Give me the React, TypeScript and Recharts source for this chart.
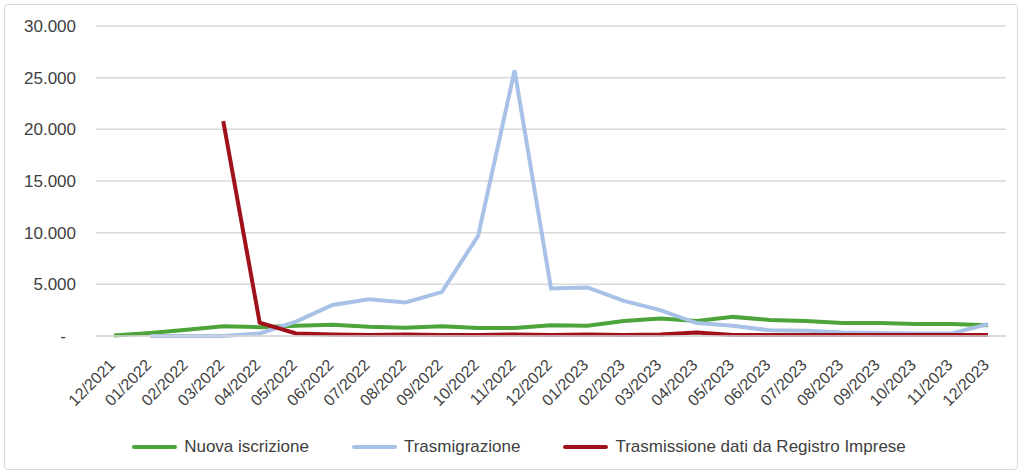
import React from 'react';
import { LineChart, Line, XAxis, YAxis, CartesianGrid, Legend } from 'recharts';

const months = [
  '12/2021', '01/2022', '02/2022', '03/2022', '04/2022', '05/2022', '06/2022', '07/2022', '08/2022',
  '09/2022', '10/2022', '11/2022', '12/2022', '01/2023', '02/2023', '03/2023', '04/2023', '05/2023',
  '06/2023', '07/2023', '08/2023', '09/2023', '10/2023', '11/2023', '12/2023',
];

const nuovaIscrizione = [
  50, 300, 600, 950, 850, 1000, 1100, 900, 800, 950, 770, 770, 1050,
  1000, 1450, 1700, 1450, 1850, 1550, 1450, 1250, 1250, 1150, 1150, 1050,
];

const trasmigrazione = [
  null, 0, 0, 0, 250, 1400, 3000, 3550, 3250, 4250, 9700, 25700, 4600,
  4700, 3400, 2500, 1250, 1000, 550, 500, 350, 300, 250, 250, 1150,
];

const trasmissioneRI = [
  null, null, null, 20800, 1300, 250, 150, 100, 150, 100, 100, 150, 100,
  150, 100, 150, 350, 100, 100, 100, 100, 100, 100, 100, 100,
];

const yTicks = [0, 5000, 10000, 15000, 20000, 25000, 30000];

const data = months.map((m, i) => ({
  month: m,
  nuova: nuovaIscrizione[i],
  trasm: trasmigrazione[i],
  regImp: trasmissioneRI[i],
}));

const FONT = '"Liberation Sans", Arial, sans-serif';
const TEXT = '#404040';

// formato italiano: punto come separatore delle migliaia, "-" per lo zero
const formatIt = (v: number) => (v === 0 ? '-' : String(v).replace(/\B(?=(\d{3})+(?!\d))/g, '.'));

const YTick = (props: any) => {
  const { x, y, payload } = props;
  const isZero = payload.value === 0;
  return (
    <text x={isZero ? x - 10 : x} y={y} dy={6} textAnchor="end" fill={TEXT} fontSize={17} fontFamily={FONT}>
      {formatIt(payload.value)}
    </text>
  );
};

const XTick = (props: any) => {
  const { x, y, payload } = props;
  return (
    <g transform={`translate(${x + 2},${y + 22})`}>
      <text x={0} y={0} textAnchor="end" transform="rotate(-45)" fill={TEXT} fontSize={16} fontFamily={FONT}>
        {payload.value}
      </text>
    </g>
  );
};

const LegendContent = (props: any) => {
  const { payload } = props;
  return (
    <div style={{ display: 'flex', justifyContent: 'center', alignItems: 'center', paddingLeft: 32, height: 22 }}>
      {payload.map((p: any, i: number) => (
        <div key={p.value} style={{ display: 'flex', alignItems: 'center', marginLeft: i === 0 ? 0 : 43 }}>
          <div style={{ width: 45, height: 4, background: p.color, borderRadius: 2, marginRight: 7 }} />
          <span style={{ fontFamily: FONT, fontSize: 17, color: TEXT, whiteSpace: 'nowrap' }}>{p.value}</span>
        </div>
      ))}
    </div>
  );
};

const App: React.FC = () => {
  return (
    <div style={{ position: 'absolute', left: 0, top: 0, width: 1024, height: 474, background: '#fff' }}>
      <div
        style={{
          position: 'absolute', left: 4, top: 4, width: 1012, height: 464,
          border: '1px solid #d9d9d9', borderRadius: 4,
        }}
      />
      <LineChart
        width={1024}
        height={474}
        data={data}
        margin={{ top: 26, right: 18, left: 0, bottom: 16 }}
      >
        <CartesianGrid vertical={false} stroke="#d9d9d9" strokeWidth={1.5} />
        <XAxis
          dataKey="month"
          interval={0}
          height={100}
          padding={{ left: 18, right: 18 }}
          axisLine={{ stroke: '#d9d9d9', strokeWidth: 1.5 }}
          tickLine={false}
          tick={<XTick />}
        />
        <YAxis
          domain={[0, 30000]}
          ticks={yTicks}
          width={96}
          axisLine={false}
          tickLine={false}
          tickSize={0}
          tickMargin={20}
          tick={<YTick />}
        />
        <Legend verticalAlign="bottom" height={22} content={<LegendContent />} />
        <Line type="linear" dataKey="nuova" name="Nuova iscrizione" stroke="#4CA43A" strokeWidth={4} dot={false} isAnimationActive={false} />
        <Line type="linear" dataKey="trasm" name="Trasmigrazione" stroke="#A8C1E6" strokeWidth={4} dot={false} isAnimationActive={false} />
        <Line type="linear" dataKey="regImp" name="Trasmissione dati da Registro Imprese" stroke="#A0111A" strokeWidth={4} dot={false} isAnimationActive={false} />
      </LineChart>
    </div>
  );
};

export default App;
